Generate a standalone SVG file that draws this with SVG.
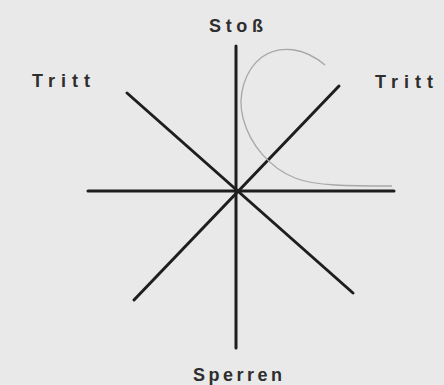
<svg xmlns="http://www.w3.org/2000/svg" width="444" height="385" viewBox="0 0 444 385">
<style>
.ax{stroke:#1e1e1e;stroke-width:3;stroke-linecap:round;fill:none}
.lbl{font-family:"Liberation Sans",Arial,sans-serif;font-size:18px;font-weight:bold;fill:#2e2e2e}
</style>
<rect width="444" height="385" fill="#e9e9e9"/>
<g id="connectors">
<line class="ax" x1="236" y1="46" x2="236" y2="348"/>
<line class="ax" x1="88" y1="191" x2="394" y2="191"/>
<line class="ax" x1="127" y1="93" x2="353" y2="293"/>
<line class="ax" x1="339" y1="86" x2="134" y2="300"/>
<path d="M392 186 C350 186,315 186,295 178 C270 168,250 145,243 118 C237 95,245 70,262 57 C280 44,305 48,325 65" fill="none" stroke="#a8a8a8" stroke-width="1.3"/>
</g>
<g id="stoss"><text class="lbl" x="209" y="32" textLength="54" lengthAdjust="spacing">Stoß</text></g>
<g id="tritt-left"><text class="lbl" x="32" y="87" textLength="58" lengthAdjust="spacing">Tritt</text></g>
<g id="tritt-right"><text class="lbl" x="375" y="88" textLength="58" lengthAdjust="spacing">Tritt</text></g>
<g id="sperren"><text class="lbl" x="193" y="381" textLength="89" lengthAdjust="spacing">Sperren</text></g>
</svg>
